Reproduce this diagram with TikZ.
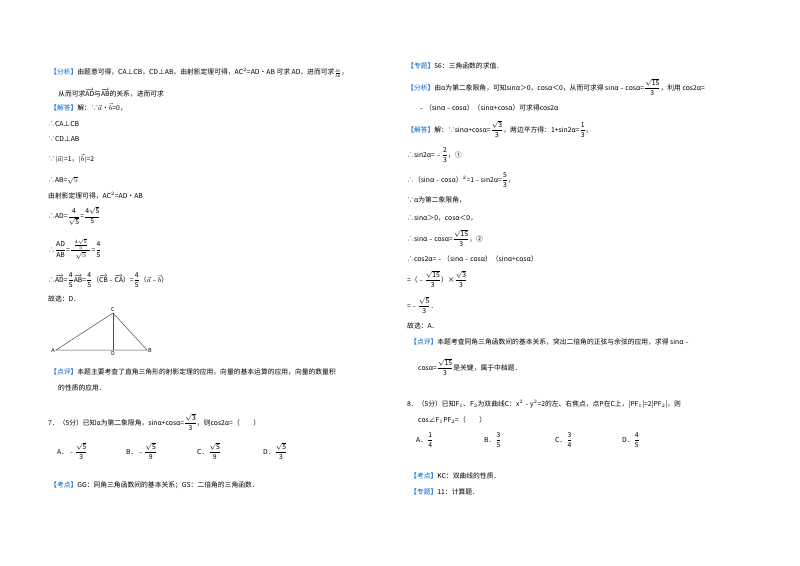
\documentclass[tikz,border=0pt]{standalone}
\usepackage{fontspec}
\usepackage{amsmath}
\setmainfont{Noto Sans CJK SC}
\definecolor{kblue}{RGB}{0,102,204}
\newcommand{\kw}[1]{\textcolor{kblue}{【#1】}}
\newcommand{\va}[1]{\overrightarrow{\mathrm{#1}}}
\newcommand{\fr}[2]{\dfrac{\mathrm{#1}}{\mathrm{#2}}}
\begin{document}
\begin{tikzpicture}[x=1pt,y=-1pt,
  t/.style={anchor=west,inner sep=0pt,font=\fontsize{6.8}{8}\selectfont},
  seg/.style={draw=black!70,line width=0.5pt},
  lab/.style={inner sep=1pt,font=\fontsize{5.5}{6}\selectfont}]
\useasboundingbox[fill=white] (0,0) rectangle (800,565);
% left column
\node[t] (l1) at (50,73) {\kw{分析}由题意可得，CA⊥CB，CD⊥AB，由射影定理可得，AC$^{2}$=AD•AB 可求 AD，进而可求$\scriptstyle\frac{\mathrm{AD}}{\mathrm{AB}}$，};
\node[t] (l2) at (58,93) {从而可求$\va{AD}$与$\va{AB}$的关系，进而可求};
\node[t] (l3) at (50,107) {\kw{解答}解：∵$\vec{a}$•$\vec{b}$=0，};
\node[t] (l4) at (48,124) {∴CA⊥CB};
\node[t] (l5) at (48,139) {∵CD⊥AB};
\node[t] (l6) at (48,159) {∵$|\vec{a}|$=1，$|\vec{b}|$=2};
\node[t] (l7) at (48,180) {∴AB=$\sqrt{5}$};
\node[t] (l8) at (48,196) {由射影定理可得，AC$^{2}$=AD•AB};
\node[t] (l9) at (48,216) {∴AD=$\fr{4}{\sqrt5}$=$\fr{4\sqrt5}{5}$};
\node[t] (l10) at (48,249) {∴$\fr{AD}{AB}$=$\dfrac{\;\frac{4\sqrt5}{5}\;}{\sqrt5}$=$\fr{4}{5}$};
\node[t] (l11) at (48,280) {∴$\va{AD}$=$\fr45\va{AB}$=$\fr45$（$\va{CB}$﹣$\va{CA}$）=$\fr45$（$\vec{a}$﹣$\vec{b}$）};
\node[t] (l12) at (48,299) {故选：D．};
% triangle
\coordinate (A) at (56,350);
\coordinate (B) at (147,350);
\coordinate (C) at (113,313);
\coordinate (D) at (113,350);
\draw[seg] (A) -- (B) -- (C) -- cycle;
\draw[seg] (C) -- (D);
\node[lab,left] (lA) at (A) {A};
\node[lab,right] (lB) at (B) {B};
\node[lab,above] (lC) at (C) {C};
\node[lab,below] (lD) at (D) {D};
\node[t] (l13) at (50,372) {\kw{点评}本题主要考查了直角三角形的射影定理的应用，向量的基本运算的应用，向量的数量积};
\node[t] (l14) at (58,388) {的性质的应用．};
\node[t] (q7) at (48,422) {7．（5分）已知α为第二象限角，sinα+cosα=$\fr{\sqrt3}{3}$，则cos2α=（　　）};
\node[t] (q7a) at (57,451) {A．﹣$\fr{\sqrt5}{3}$};
\node[t] (q7b) at (126,451) {B．﹣$\fr{\sqrt5}{9}$};
\node[t] (q7c) at (197,451) {C．$\fr{\sqrt5}{9}$};
\node[t] (q7d) at (263,451) {D．$\fr{\sqrt5}{3}$};
\node[t] (kd7) at (50,485) {\kw{考点}GG：同角三角函数间的基本关系；GS：二倍角的三角函数．};
% right column
\node[t] (r1) at (407,66) {\kw{专题}56：三角函数的求值．};
\node[t] (r2) at (407,87) {\kw{分析}由α为第二象限角，可知sinα＞0，cosα＜0，从而可求得 sinα﹣cosα=$\fr{\sqrt{15}}{3}$，利用 cos2α=};
\node[t] (r3) at (418,108) {﹣（sinα﹣cosα）（sinα+cosα）可求得cos2α};
\node[t] (r4) at (407,129) {\kw{解答}解：∵sinα+cosα=$\fr{\sqrt3}{3}$，两边平方得：1+sin2α=$\fr13$，};
\node[t] (r5) at (407,155) {∴sin2α=﹣$\fr23$，①};
\node[t] (r6) at (407,180) {∴（sinα﹣cosα）$^{2}$=1﹣sin2α=$\fr53$，};
\node[t] (r7) at (407,200) {∵α为第二象限角，};
\node[t] (r8) at (407,218) {∴sinα＞0，cosα＜0，};
\node[t] (r9) at (407,238) {∴sinα﹣cosα=$\fr{\sqrt{15}}{3}$，②};
\node[t] (r10) at (407,259) {∴cos2α=﹣（sinα﹣cosα）（sinα+cosα）};
\node[t] (r11) at (407,279) {=（﹣$\fr{\sqrt{15}}{3}$）×$\fr{\sqrt3}{3}$};
\node[t] (r12) at (407,305) {=﹣$\fr{\sqrt5}{3}$．};
\node[t] (r13) at (407,326) {故选：A．};
\node[t] (r14) at (410,342) {\kw{点评}本题考查同角三角函数间的基本关系，突出二倍角的正弦与余弦的应用，求得 sinα﹣};
\node[t] (r15) at (418,367) {cosα=$\fr{\sqrt{15}}{3}$是关键，属于中档题．};
\node[t] (q8) at (407,404) {8．（5分）已知F$_1$、F$_2$为双曲线C：x$^2$﹣y$^2$=2的左、右焦点，点P在C上，|PF$_1$|=2|PF$_2$|，则};
\node[t] (q8b) at (418,420) {cos∠F$_1$PF$_2$=（　　）};
\node[t] (q8a) at (416,440) {A．$\fr14$};
\node[t] (q8bb) at (484,440) {B．$\fr35$};
\node[t] (q8c) at (555,440) {C．$\fr34$};
\node[t] (q8d) at (622,440) {D．$\fr45$};
\node[t] (kd8) at (410,476) {\kw{考点}KC：双曲线的性质．};
\node[t] (zt8) at (410,492) {\kw{专题}11：计算题．};
\end{tikzpicture}
\end{document}
